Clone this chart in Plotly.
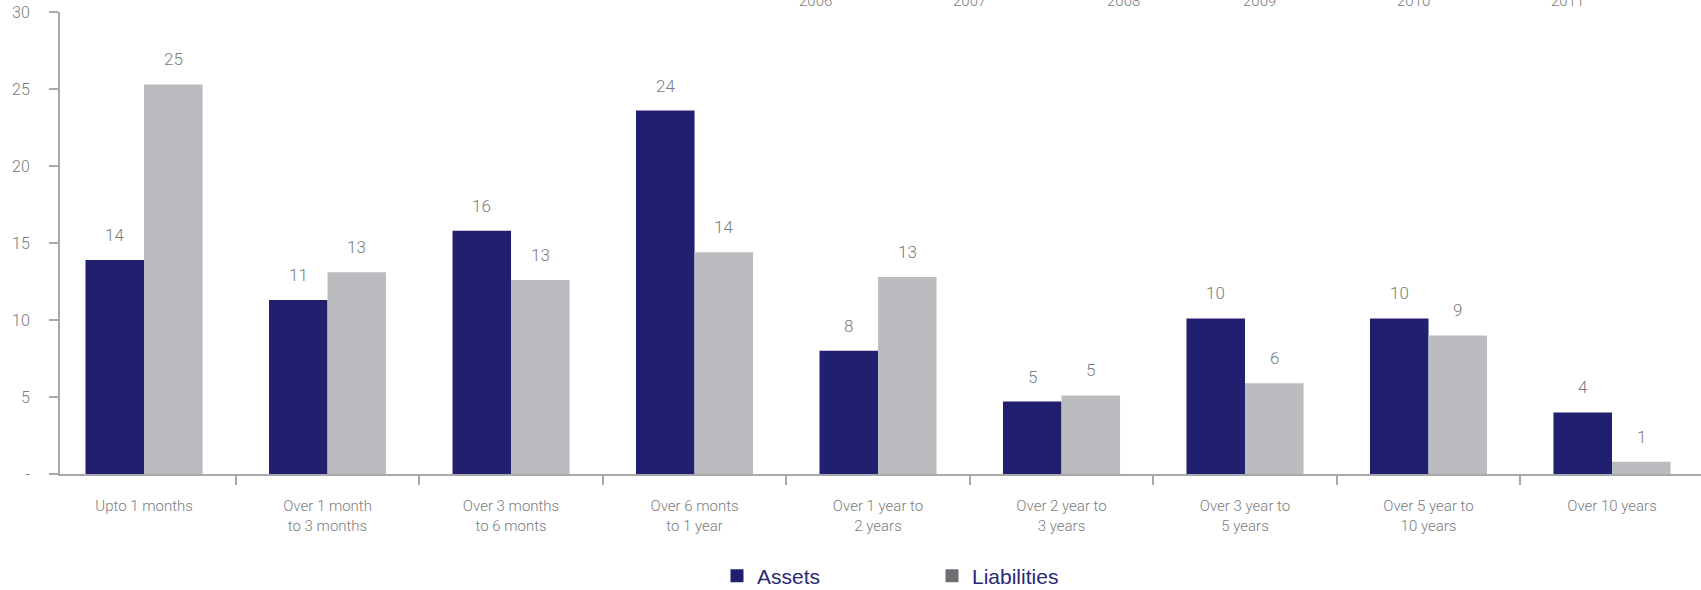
import plotly.graph_objects as go

# Maturity buckets shown along the x axis
categories = [
    "Upto 1 months",
    "Over 1 month<br>to 3 months",
    "Over 3 months<br>to 6 monts",
    "Over 6 monts<br>to 1 year",
    "Over 1 year to<br>2 years",
    "Over 2 year to<br>3 years",
    "Over 3 year to<br>5 years",
    "Over 5 year to<br>10 years",
    "Over 10 years",
]

# Share of each bucket (%)
assets = [13.9, 11.3, 15.8, 23.6, 8.0, 4.7, 10.1, 10.1, 4.0]
liabilities = [25.3, 13.1, 12.6, 14.4, 12.8, 5.1, 5.9, 9.0, 0.8]

y_tick_values = [0, 5, 10, 15, 20, 25, 30]
y_tick_labels = ["-", "5", "10", "15", "20", "25", "30"]

year_labels = ["2006", "2007", "2008", "2009", "2010", "2011"]

# ---- styling ----
NAVY = "#231f6f"
LIGHT_GREY = "#bbbcc0"
KEY_GREY = "#6d6e71"
AXIS_GREY = "#a7a9ac"
TEXT_GREY = "#7a7b7e"
LEGEND_TEXT = "#2b2876"

W, H = 1701, 590
M_L, M_R, M_T, M_B = 60, 0, 12, 116
X_RANGE = [-0.458, 8.485]
BARGAP = 0.362

plot_w = W - M_L - M_R
bar_w = (1 - BARGAP) / 2          # width of one bar in category units
half = bar_w / 2

fig = go.Figure()
fig.add_trace(go.Bar(x=categories, y=assets, name="Assets",
                     marker=dict(color=NAVY, line=dict(width=0)), showlegend=False))
fig.add_trace(go.Bar(x=categories, y=liabilities, name="Liabilities",
                     marker=dict(color=LIGHT_GREY, line=dict(width=0)), showlegend=False))

# legend keys
fig.add_trace(go.Scatter(x=[None], y=[None], mode="markers", name="Assets",
                         marker=dict(symbol="square", size=13, color=NAVY),
                         legend="legend"))
fig.add_trace(go.Scatter(x=[None], y=[None], mode="markers", name="Liabilities",
                         marker=dict(symbol="square", size=13, color=KEY_GREY),
                         legend="legend2"))

annotations = []
label_font = dict(family="Roboto", size=17, color=TEXT_GREY, weight=300)
for series, shift in ((assets, -half), (liabilities, half)):
    for i, v in enumerate(series):
        annotations.append(dict(
            x=i + shift, y=v, xref="x", yref="y",
            text=f"{round(v)}", showarrow=False,
            yshift=25, font=label_font,
        ))

# year captions running off the top edge
for k, yr in enumerate(year_labels):
    px = 815 + k * 154.2
    annotations.append(dict(
        x=(px - M_L) / plot_w, y=1, xref="paper", yref="paper",
        text=yr, showarrow=False, yanchor="middle", yshift=M_T - 0.5,
        font=dict(family="Roboto", size=15, color=TEXT_GREY, weight=300),
    ))

legend_style = dict(
    orientation="h", xref="container", yref="container",
    yanchor="middle", xanchor="left",
    font=dict(family="Liberation Sans", size=21, color=LEGEND_TEXT),
    bgcolor="rgba(0,0,0,0)", borderwidth=0,
)

fig.update_layout(
    width=W, height=H,
    margin=dict(l=M_L, r=M_R, t=M_T, b=M_B, pad=0),
    paper_bgcolor="white", plot_bgcolor="white",
    barmode="group", bargap=BARGAP, bargroupgap=0,
    font=dict(family="Roboto", color=TEXT_GREY, weight=300),
    xaxis=dict(
        type="category", range=X_RANGE,
        showline=True, linecolor=AXIS_GREY, linewidth=2,
        ticks="outside", tickson="boundaries", ticklen=9, tickwidth=1.5,
        tickcolor=AXIS_GREY, showgrid=False, zeroline=False,
        tickfont=dict(family="Roboto", size=15, color=TEXT_GREY, weight=300),
        ticklabelstandoff=17,
    ),
    yaxis=dict(
        range=[0, 30], tickmode="array",
        tickvals=y_tick_values, ticktext=y_tick_labels,
        showline=True, linecolor=AXIS_GREY, linewidth=2,
        ticks="outside", ticklen=9, tickwidth=1.5, tickcolor=AXIS_GREY,
        showgrid=False, zeroline=False,
        tickfont=dict(family="Roboto", size=16, color=TEXT_GREY, weight=300),
        ticklabelstandoff=16,
    ),
    legend=dict(x=717 / W, y=1 - 576 / H, **legend_style),
    legend2=dict(x=932 / W, y=1 - 576 / H, **legend_style),
    annotations=annotations,
)

fig.write_html("out.html")
